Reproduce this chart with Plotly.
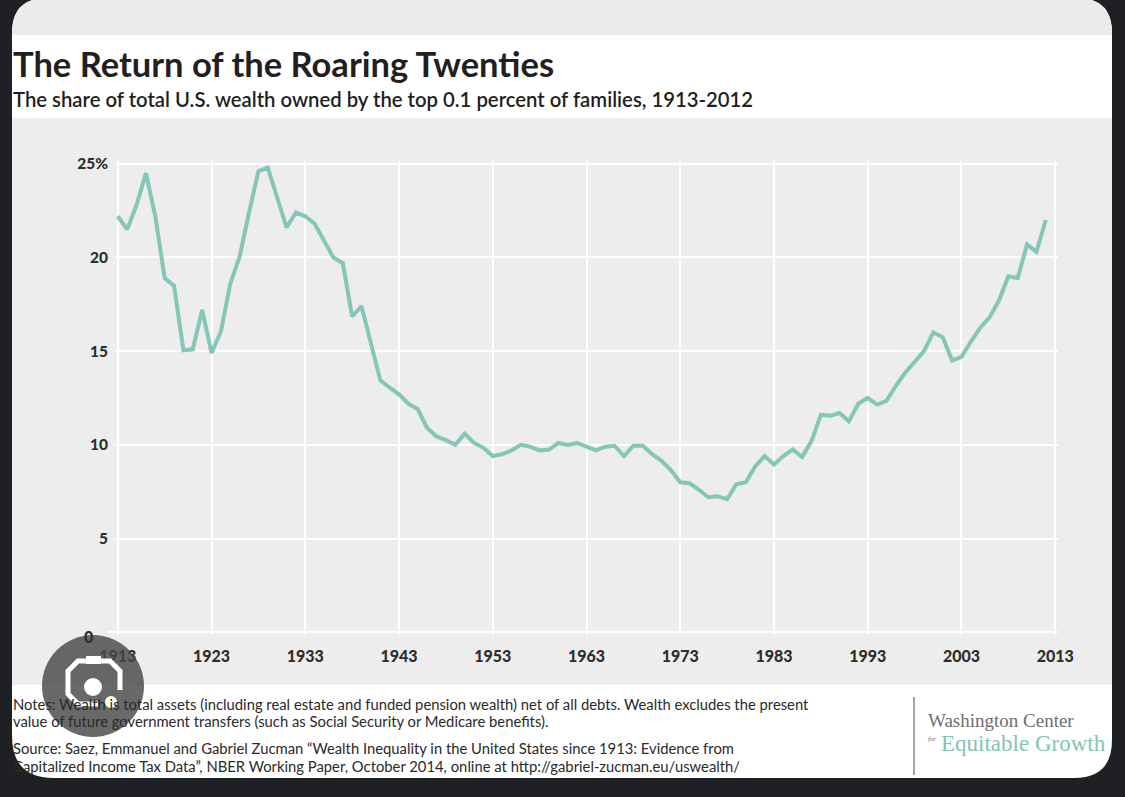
import plotly.graph_objects as go

# Top 0.1% share of U.S. wealth
years = list(range(1913, 2013))
share = [
    22.2, 21.5, 22.8, 24.5, 22.2, 18.9, 18.5, 15.05, 15.1, 17.2,   # 1913-1922
    14.9, 16.05, 18.6, 20.05, 22.4, 24.6, 24.8, 23.2, 21.6, 22.4,  # 1923-1932
    22.2, 21.8, 20.85, 20.0, 19.7, 16.85, 17.4, 15.4, 13.45, 13.05,  # 1933-1942
    12.7, 12.2, 11.9, 10.9, 10.45, 10.25, 10.0, 10.6, 10.1, 9.85,  # 1943-1952
    9.4, 9.5, 9.7, 10.0, 9.9, 9.7, 9.75, 10.1, 10.0, 10.1,         # 1953-1962
    9.9, 9.7, 9.9, 9.95, 9.4, 9.95, 9.95, 9.5, 9.15, 8.65,         # 1963-1972
    8.0, 7.95, 7.6, 7.2, 7.25, 7.1, 7.9, 8.0, 8.85, 9.4,           # 1973-1982
    8.95, 9.4, 9.75, 9.35, 10.2, 11.6, 11.55, 11.7, 11.25, 12.2,   # 1983-1992
    12.5, 12.15, 12.35, 13.15, 13.85, 14.45, 15.0, 16.0, 15.75, 14.5,  # 1993-2002
    14.7, 15.5, 16.25, 16.8, 17.7, 19.0, 18.9, 20.7, 20.3, 22.0,   # 2003-2012
]

x_ticks = list(range(1913, 2014, 10))
y_ticks = [0, 5, 10, 15, 20, 25]
y_labels = ["", "5", "10", "15", "20", "25%"]

title = "The Return of the Roaring Twenties"
subtitle = "The share of total U.S. wealth owned by the top 0.1 percent of families, 1913-2012"
notes = [
    "Notes: Wealth is total assets (including real estate and funded pension wealth) net of all debts. Wealth excludes the present",
    "value of future government transfers (such as Social Security or Medicare benefits).",
]
source = [
    "Source: Saez, Emmanuel and Gabriel Zucman \u201cWealth Inequality in the United States since 1913: Evidence from",
    "Capitalized Income Tax Data\u201d, NBER Working Paper, October 2014, online at http://gabriel-zucman.eu/uswealth/",
]

W, H = 1125, 797
ML, MR, MT, MB = 115, 67, 161, 162
PW, PH = W - ML - MR, H - MT - MB

DARK = "#1f2023"
GRAY = "#ededed"
TEAL = "#84c6b8"
INK = "#231f20"
TICK = "#2e2e2e"


def px(x):
    return (x - ML) / PW


def py(y):
    return 1 - (y - MT) / PH


def rounded(x0, y0, x1, y1, tl, tr, br, bl):
    def p(x, y):
        return f"{px(x):.5f},{py(y):.5f}"
    return (f"M {p(x0 + tl, y0)} L {p(x1 - tr, y0)} Q {p(x1, y0)} {p(x1, y0 + tr)} "
            f"L {p(x1, y1 - br)} Q {p(x1, y1)} {p(x1 - br, y1)} "
            f"L {p(x0 + bl, y1)} Q {p(x0, y1)} {p(x0, y1 - bl)} "
            f"L {p(x0, y0 + tl)} Q {p(x0, y0)} {p(x0 + tl, y0)} Z")


def path(points):
    return "M " + " L ".join(f"{px(x):.5f},{py(y):.5f}" for x, y in points)


def shape(**kw):
    d = dict(xref="paper", yref="paper")
    d.update(kw)
    return d


fig = go.Figure()

fig.add_trace(go.Scatter(
    x=years, y=share,
    mode="lines",
    line=dict(color=TEAL, width=4),
    hoverinfo="skip",
    showlegend=False,
))

shapes = [
    # the card
    shape(type="path", path=rounded(12, -2, 1112, 778, 35, 35, 38, 42),
          fillcolor="white", line=dict(width=0), layer="below"),
    shape(type="path", path=rounded(12, -2, 1112, 35, 35, 35, 0, 0),
          fillcolor="#ebebeb", line=dict(width=0), layer="below"),
    shape(type="rect", x0=px(12), x1=px(1112), y0=py(685), y1=py(118),
          fillcolor=GRAY, line=dict(width=0), layer="below"),
    # zero line stub to the left
    shape(type="line", yref="y", x0=px(108), x1=0, y0=0, y1=0,
          line=dict(color="white", width=2), layer="below"),
    # logo divider
    shape(type="line", x0=px(914), x1=px(914), y0=py(697), y1=py(775),
          line=dict(color="#8a8a8a", width=1.5)),
    # lens overlay
    shape(type="circle", x0=px(42), x1=px(144), y0=py(737), y1=py(635),
          fillcolor="rgba(72,72,72,0.82)", line=dict(width=0), layer="above"),
    shape(type="path", path=path([(88, 661), (78, 661), (68, 671), (68, 694), (78, 704), (98, 704)]),
          line=dict(color="white", width=5), layer="above"),
    shape(type="path", path=path([(99, 661), (110, 661), (120, 671), (120, 690)]),
          line=dict(color="white", width=5), layer="above"),
    shape(type="rect", x0=px(86), x1=px(101), y0=py(664), y1=py(656),
          fillcolor="white", line=dict(width=0), layer="above"),
    shape(type="circle", x0=px(84), x1=px(102), y0=py(696), y1=py(678),
          fillcolor="white", line=dict(width=0), layer="above"),
    shape(type="circle", x0=px(105), x1=px(117), y0=py(708), y1=py(696),
          fillcolor="white", line=dict(width=0), layer="above"),
]


def text(x, y, s, size, color=INK, family="Lato", anchor="left", **kw):
    return dict(xref="paper", yref="paper", x=px(x), y=py(y), text=s,
                showarrow=False, xanchor=anchor, yanchor="middle",
                font=dict(family=family, size=size, color=color, **kw))


annotations = [
    text(11, 63, title, 34.5, weight=700),
    text(11, 99, subtitle, 20.3, weight=600),
    text(11, 704, notes[0], 14.8, color="#2a2a2a"),
    text(11, 721, notes[1], 14.8, color="#2a2a2a"),
    text(11, 748, source[0], 14.8, color="#2a2a2a"),
    text(11, 766, source[1], 14.8, color="#2a2a2a"),
    text(88, 636, "0", 16, color=TICK, anchor="center", weight=900),
    text(926, 720, "Washington Center", 19, color="#6d6e71", family="Liberation Serif"),
    text(926, 739, "for", 7, color="#6d6e71", family="Liberation Serif", style="italic"),
    text(939, 743, "Equitable Growth", 23, color="#7fc6b3", family="Liberation Serif"),
]

fig.update_layout(
    width=W, height=H,
    margin=dict(l=ML, r=MR, t=MT, b=MB, pad=0),
    paper_bgcolor=DARK,
    plot_bgcolor=GRAY,
    shapes=shapes,
    annotations=annotations,
    xaxis=dict(
        range=[1912.7, 2013.3],
        tickvals=x_ticks,
        showgrid=True, gridcolor="white", gridwidth=2,
        zeroline=False, showline=False, ticks="",
        ticklabelstandoff=10,
        tickfont=dict(family="Lato", size=16, color=TICK, weight=900),
    ),
    yaxis=dict(
        range=[-0.15, 25.15],
        tickvals=y_ticks, ticktext=y_labels,
        showgrid=True, gridcolor="white", gridwidth=2,
        zeroline=False, showline=False, ticks="",
        ticklabelstandoff=6,
        tickfont=dict(family="Lato", size=15.5, color=TICK, weight=900),
    ),
)

fig.write_html(
    "out.html",
    config=dict(displayModeBar=False),
    post_script="document.body.style.margin='0';document.body.style.overflow='hidden';",
)
